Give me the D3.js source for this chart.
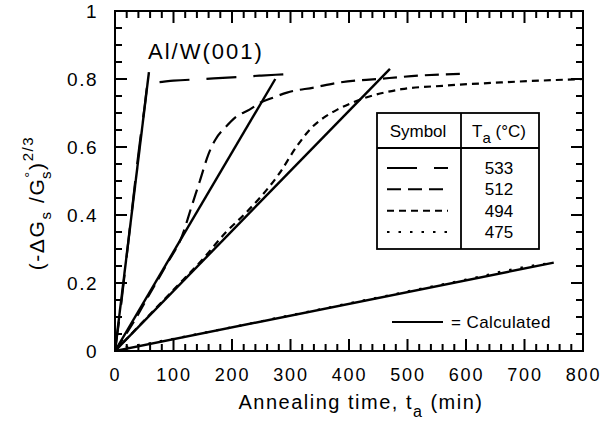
<!DOCTYPE html>
<html>
<head>
<meta charset="utf-8">
<script src="https://cdn.jsdelivr.net/npm/d3@7/dist/d3.min.js"></script>
<style>
  html, body { margin: 0; padding: 0; background: #fff; }
  svg { display: block; }
  text { font-family: "Liberation Sans", Arial, Helvetica, sans-serif; fill: #000; }
</style>
</head>
<body>
<svg id="chart" width="601" height="423"></svg>
<script>
// Annealing-time series for each temperature (minutes, normalised value)
const temps = [533, 512, 494, 475];

const t533 = [0, 10, 20, 30, 40, 50, 57, 65, 100, 150, 200, 250, 300];
const g533 = [0, 0.13, 0.28, 0.43, 0.58, 0.71, 0.79, 0.79, 0.795, 0.80, 0.805, 0.81, 0.815];

const t512 = [0, 30, 60, 90, 115, 130, 145, 160, 171, 190, 208, 230, 248, 270, 294, 340, 385, 450, 520, 590];
const g512 = [0, 0.08, 0.17, 0.26, 0.34, 0.42, 0.50, 0.58, 0.62, 0.66, 0.69, 0.71, 0.73, 0.745, 0.76, 0.775, 0.79, 0.80, 0.81, 0.815];

const t494 = [0, 50, 100, 150, 190, 220, 250, 280, 310, 335, 360, 380, 420, 490, 560, 660, 800];
const g494 = [0, 0.09, 0.18, 0.27, 0.35, 0.40, 0.455, 0.52, 0.60, 0.655, 0.69, 0.71, 0.74, 0.77, 0.78, 0.79, 0.80];

const t475 = [0, 20, 50, 100, 200, 300, 400, 500, 600, 700, 750];
const g475 = [0, 0.012, 0.02, 0.036, 0.07, 0.105, 0.14, 0.175, 0.21, 0.247, 0.26];

// Calculated straight lines from the origin: end time and end value
const calcEndT = [58, 274, 470, 750];
const calcEndG = [0.82, 0.80, 0.83, 0.26];

const xTickLabels = [0, 100, 200, 300, 400, 500, 600, 700, 800];
const yTickLabels = [0, 0.2, 0.4, 0.6, 0.8, 1];

// Line styles per temperature
const dashStyle = {533: "30,17", 512: "14,7", 494: "7,5", 475: "2.5,9"};

const svg = d3.select("#chart");
const pL = 115, pR = 583, pT = 11, pB = 351;

const x = d3.scaleLinear().domain([0, 800]).range([pL, pR]);
const y = d3.scaleLinear().domain([0, 1]).range([pB, pT]);

const majorLen = 12, minorLen = 7;

// Inward tick marks on all four sides, each drawn as a thin filled bar
const xMinor = d3.range(0, 801, 20);
const yMinor = d3.range(0, 21).map(i => i * 0.05);
const isMajorX = v => v % 100 === 0;
const isMajorY = v => Math.abs(v * 5 - Math.round(v * 5)) < 1e-6;

const tickG = svg.append("g").attr("fill", "#000");
xMinor.forEach(v => {
  const len = isMajorX(v) ? majorLen : minorLen;
  tickG.append("rect").attr("x", x(v) - 1).attr("y", pB - len).attr("width", 2).attr("height", len);
  tickG.append("rect").attr("x", x(v) - 1).attr("y", pT).attr("width", 2).attr("height", len);
});
yMinor.forEach(v => {
  const len = isMajorY(v) ? majorLen : minorLen;
  tickG.append("rect").attr("x", pL).attr("y", y(v) - 1).attr("width", len).attr("height", 2);
  tickG.append("rect").attr("x", pR - len).attr("y", y(v) - 1).attr("width", len).attr("height", 2);
});

// Plot frame
svg.append("rect")
  .attr("x", pL).attr("y", pT)
  .attr("width", pR - pL).attr("height", pB - pT)
  .attr("fill", "none").attr("stroke", "#000").attr("stroke-width", 2);

// Axis labels via d3 axes
const xAxis = svg.append("g").attr("transform", `translate(0,${pB})`)
  .call(d3.axisBottom(x).tickValues(xTickLabels).tickSize(0).tickPadding(17).tickFormat(d3.format("d")));
xAxis.select(".domain").remove();
xAxis.selectAll(".tick text")
  .attr("font-size", 18).attr("letter-spacing", 1.8)
  .style("font-family", "'Liberation Sans', Arial, sans-serif");

const yAxis = svg.append("g").attr("transform", `translate(${pL},0)`)
  .call(d3.axisLeft(y).tickValues(yTickLabels).tickSize(0).tickPadding(17)
    .tickFormat(d => d === 0 || d === 1 ? String(d) : d.toFixed(1)));
yAxis.select(".domain").remove();
yAxis.selectAll(".tick text")
  .attr("font-size", 19).attr("letter-spacing", 1.5)
  .style("font-family", "'Liberation Sans', Arial, sans-serif");

svg.append("clipPath").attr("id", "plotclip")
  .append("rect").attr("x", pL).attr("y", pT - 4)
  .attr("width", pR - pL).attr("height", pB - pT + 4);

const plot = svg.append("g").attr("clip-path", "url(#plotclip)");

const line = d3.line()
  .x(d => x(d[0])).y(d => y(d[1]))
  .curve(d3.curveMonotoneX);

const series = [
  {T: 533, t: t533, g: g533},
  {T: 512, t: t512, g: g512},
  {T: 494, t: t494, g: g494},
  {T: 475, t: t475, g: g475}
];

series.forEach(s => {
  plot.append("path")
    .datum(d3.zip(s.t, s.g))
    .attr("d", line)
    .attr("fill", "none")
    .attr("stroke", "#000")
    .attr("stroke-width", 2.2)
    .attr("stroke-dasharray", dashStyle[s.T]);
});

// Calculated lines
temps.forEach((T, i) => {
  plot.append("path")
    .datum([[0, 0], [calcEndT[i], calcEndG[i]]])
    .attr("d", d3.line().x(d => x(d[0])).y(d => y(d[1])))
    .attr("fill", "none")
    .attr("stroke", "#000")
    .attr("stroke-width", 2.4);
});

// Panel title
svg.append("text")
  .attr("x", 148).attr("y", 59)
  .attr("font-size", 22).attr("letter-spacing", 2)
  .text("Al/W(001)");

// Legend table
const lg = svg.append("g");
const bx0 = 377, bx1 = 539, by0 = 113, by1 = 249, bmid = 461, bhead = 148;
lg.append("rect").attr("x", bx0).attr("y", by0).attr("width", bx1 - bx0).attr("height", by1 - by0)
  .attr("fill", "#fff").attr("stroke", "#000").attr("stroke-width", 1.8);
lg.append("line").attr("x1", bmid).attr("x2", bmid).attr("y1", by0).attr("y2", by1)
  .attr("stroke", "#000").attr("stroke-width", 1.8);
lg.append("line").attr("x1", bx0).attr("x2", bx1).attr("y1", bhead).attr("y2", bhead)
  .attr("stroke", "#000").attr("stroke-width", 1.8);

lg.append("text").attr("x", 418).attr("y", 137).attr("text-anchor", "middle")
  .attr("font-size", 17).text("Symbol");
const th = lg.append("text").attr("x", 499).attr("y", 137).attr("text-anchor", "middle")
  .attr("font-size", 17);
th.append("tspan").text("T");
th.append("tspan").attr("font-size", 15).attr("dy", 6).text("a");
th.append("tspan").attr("dy", -6).text(" (°C)");

const rowY = d3.scaleLinear().domain([0, 3]).range([168, 232]);
temps.forEach((T, i) => {
  lg.append("line")
    .attr("x1", 387).attr("x2", 448)
    .attr("y1", rowY(i)).attr("y2", rowY(i))
    .attr("stroke", "#000").attr("stroke-width", 2)
    .attr("stroke-dasharray", dashStyle[T]);
  lg.append("text")
    .attr("x", 499).attr("y", rowY(i) + 6)
    .attr("text-anchor", "middle").attr("font-size", 17)
    .text(T);
});

// Calculated-line key
svg.append("line").attr("x1", 392).attr("x2", 443).attr("y1", 322).attr("y2", 322)
  .attr("stroke", "#000").attr("stroke-width", 2.2);
svg.append("text").attr("x", 451).attr("y", 328).attr("font-size", 17).attr("letter-spacing", 0.4)
  .text("= Calculated");

// Axis titles
const xt = svg.append("text")
  .attr("x", 361).attr("y", 409).attr("text-anchor", "middle")
  .attr("font-size", 20).attr("letter-spacing", 1.5);
xt.append("tspan").text("Annealing time,  t");
xt.append("tspan").attr("font-size", 16).attr("dy", 8).text("a");
xt.append("tspan").attr("dy", -8).text(" (min)");

const yt = svg.append("text")
  .attr("transform", "translate(44,203) rotate(-90)")
  .attr("text-anchor", "middle")
  .attr("font-size", 21).attr("letter-spacing", 1.6);
yt.append("tspan").text("(-ΔG");
yt.append("tspan").attr("font-size", 15).attr("dy", 7).text("s");
yt.append("tspan").attr("dy", -7).text(" /G");
yt.append("tspan").attr("font-size", 15).attr("dy", -9).text("°");
yt.append("tspan").attr("font-size", 15).attr("dx", -9).attr("dy", 16).text("s");
yt.append("tspan").attr("dy", -7).text(")");
yt.append("tspan").attr("font-size", 15).attr("dy", -11).text("2/3");
</script>
</body>
</html>
